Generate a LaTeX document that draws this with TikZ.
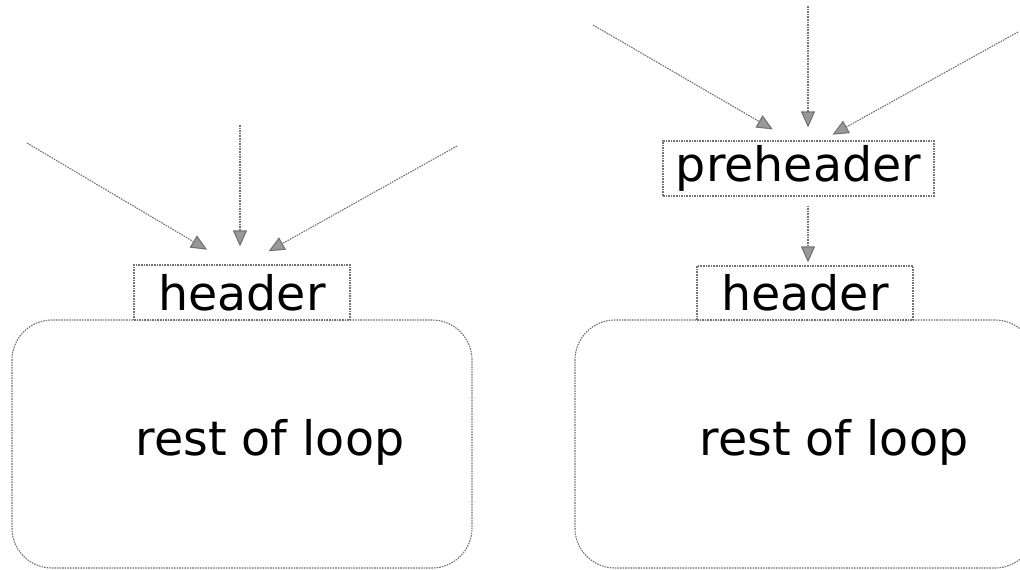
\documentclass[tikz,border=0pt]{standalone}
\usepackage{fontspec}
\setmainfont{DejaVu Sans}
\usetikzlibrary{arrows.meta}
\begin{document}
\begin{tikzpicture}[x=1pt,y=-1pt,
  ln/.style={draw=black!55, line width=1.1pt, dash pattern=on 1.6pt off 1pt},
  box/.style={ln, rectangle, inner sep=0pt, font=\fontsize{47.5}{57}\selectfont},
  loopbox/.style={ln, rectangle, rounded corners=40pt, minimum width=460pt, minimum height=248pt, inner sep=0pt},
  txt/.style={inner sep=0pt, anchor=base, font=\fontsize{47.5}{57}\selectfont},
  arr/.style={ln, -{Triangle[length=16pt,width=14pt,fill=black!40]}}]
\useasboundingbox (0,0) rectangle (1020,570);
\begin{scope}
\clip (0,0) rectangle (1020,570);
% left
\node[loopbox] (l1) at (242,444) {};
\node[txt] (r1) at (270,455) {rest of loop};
\node[box, minimum width=216pt, minimum height=55pt, fill=white] (h1) at (242,292.5) {header};
\coordinate (a1) at (27,143);
\coordinate (b1) at (240,125);
\coordinate (c1) at (457,146);
\draw[arr, shorten >=29pt] (a1) -- ([xshift=-10pt]h1.north);
\draw[arr, shorten >=18pt] (b1) -- ([xshift=-2pt]h1.north);
\draw[arr, shorten >=27pt] (c1) -- ([xshift=3pt]h1.north);
% right
\node[loopbox] (l2) at (805,444) {};
\node[txt] (r2) at (834,455) {rest of loop};
\node[box, minimum width=216pt, minimum height=54pt, fill=white] (h2) at (805,293) {header};
\node[box, minimum width=271pt, minimum height=55pt] (p2) at (798.5,168.5) {preheader};
\coordinate (a2) at (593,25);
\coordinate (b2) at (808,6);
\coordinate (c2) at (1018,32);
\draw[arr, shorten >=22pt] (a2) -- ([xshift=-6.7pt]p2.north);
\draw[arr, shorten >=13pt] (b2) -- ([xshift=9.5pt]p2.north);
\draw[arr, shorten >=12pt] (c2) -- ([xshift=23.5pt]p2.north);
\draw[arr, shorten <=9pt, shorten >=3pt] ([xshift=9.5pt]p2.south) -- ([xshift=3pt]h2.north);
\end{scope}
\end{tikzpicture}
\end{document}
